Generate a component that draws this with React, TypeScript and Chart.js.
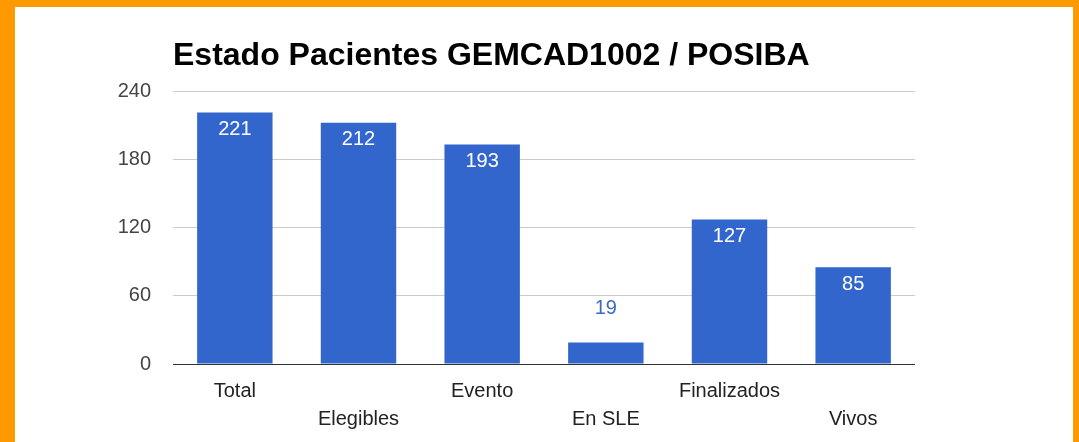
import React, { useEffect, useRef } from 'react';
import { Chart, registerables } from 'chart.js';

Chart.register(...registerables);

const chartTitle = 'Estado Pacientes GEMCAD1002 / POSIBA';
const categories = ['Total', 'Elegibles', 'Evento', 'En SLE', 'Finalizados', 'Vivos'];
const patients = [221, 212, 193, 19, 127, 85];
const yTicks = [0, 60, 120, 180, 240];

const FONT = '"Liberation Sans", Arial, sans-serif';
const BAR = '#3366cc';

const labelPlugin = {
  id: 'customLabels',
  afterDatasetsDraw(chart: any) {
    const ctx = chart.ctx;
    const meta = chart.getDatasetMeta(0);
    ctx.save();
    ctx.font = `20px ${FONT}`;
    ctx.textAlign = 'center';
    ctx.textBaseline = 'middle';
    meta.data.forEach((el: any, i: number) => {
      const v = chart.data.datasets[0].data[i];
      const h = el.base - el.y;
      if (h > 40) {
        ctx.fillStyle = '#ffffff';
        ctx.fillText(String(v), el.x, el.y + 17);
      } else {
        ctx.fillStyle = '#3d6ac4';
        ctx.fillText(String(v), el.x, el.y - 34);
      }
    });
    ctx.restore();
  },
  afterDraw(chart: any) {
    const ctx = chart.ctx;
    ctx.save();
    ctx.font = `bold 32px ${FONT}`;
    ctx.fillStyle = '#000000';
    ctx.textAlign = 'left';
    ctx.textBaseline = 'alphabetic';
    ctx.fillText(chartTitle, chart.chartArea.left, 58);
    ctx.restore();
  },
};

export default function App() {
  const ref = useRef<HTMLCanvasElement | null>(null);
  useEffect(() => {
    if (!ref.current) return;
    const chart = new Chart(ref.current, {
      type: 'bar',
      data: {
        labels: categories,
        datasets: [
          {
            data: patients,
            backgroundColor: BAR,
            categoryPercentage: 1,
            barPercentage: 0.61,
          },
        ],
      },
      options: {
        animation: false,
        responsive: false,
        devicePixelRatio: 1,
        layout: { padding: { top: 84, right: 158, left: 0, bottom: 0 } },
        plugins: {
          legend: { display: false },
          tooltip: { enabled: false },
          title: { display: false },
        },
        scales: {
          x: {
            grid: { display: false, drawTicks: false },
            border: { display: false },
            ticks: {
              padding: 13,
              color: '#222222',
              font: { family: FONT, size: 20, lineHeight: 1.4 },
              maxRotation: 0,
              autoSkip: false,
              callback: (_v: any, i: number) => (i % 2 === 1 ? ['', categories[i]] : categories[i]),
            },
            afterFit: (s: any) => {
              s.height = 78;
            },
          },
          y: {
            min: 0,
            max: 240,
            grid: {
              drawTicks: false,
              color: (c: any) => (c.tick && c.tick.value === 0 ? '#333333' : '#cccccc'),
              lineWidth: 1,
            },
            border: { display: false },
            ticks: {
              padding: 22,
              color: '#444444',
              font: { family: FONT, size: 20 },
            },
            afterBuildTicks: (s: any) => {
              s.ticks = yTicks.map((v) => ({ value: v }));
            },
            afterFit: (s: any) => {
              s.width = 158;
            },
          },
        },
      },
      plugins: [labelPlugin],
    });
    return () => chart.destroy();
  }, []);

  return (
    <div style={{ position: 'absolute', left: 0, top: 0, width: 1079, height: 442, background: '#ff9900', overflow: 'hidden' }}>
      <div style={{ position: 'absolute', left: 15, top: 7, width: 1058, height: 435, background: '#ffffff' }}>
        <canvas ref={ref} width={1058} height={435} style={{ display: 'block', width: 1058, height: 435 }} />
      </div>
    </div>
  );
}
